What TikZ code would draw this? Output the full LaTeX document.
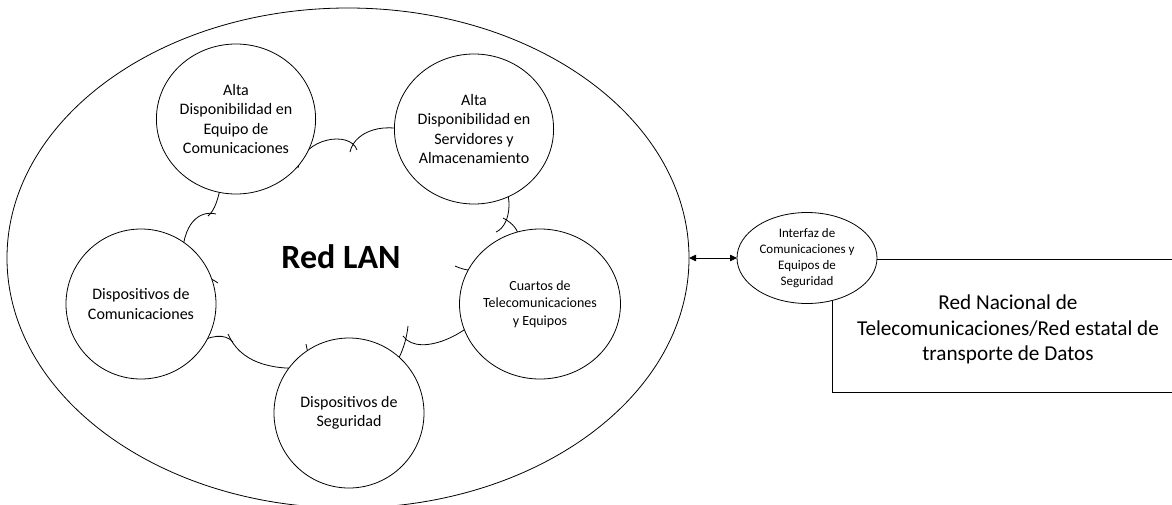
\documentclass[tikz,border=0pt]{standalone}
\usepackage{fontspec}
\setmainfont{Carlito}
\usetikzlibrary{shapes.geometric,arrows.meta}

\begin{document}
\begin{tikzpicture}[x=1pt,y=-1pt,
  every node/.style={outer sep=0pt, inner sep=0pt},
  ln/.style={line width=0.8pt},
  bubble/.style={ellipse, draw, ln, fill=white, minimum width=150pt, minimum height=150pt,
                 align=center, font=\fontsize{16}{19.6}\selectfont},
  puff/.style={draw, ln},
  twoway/.style={>={Triangle[length=7pt,width=6.5pt]}, <->}]
\useasboundingbox (0,0) rectangle (1172,504);

% outer boundary of the LAN
\node[ellipse, draw, ln, minimum width=682pt, minimum height=500pt] (lan) at (348,258) {};

% cloud puffs (partly hidden by the bubbles)
\draw[puff] (298,168) .. controls (303,138) and (350,130) .. (357,150);
\draw[puff] (350,152) .. controls (355,128) and (395,118) .. (425,140);
\draw[puff] (495,170) .. controls (515,190) and (512,225) .. (496,232);
\draw[puff] (503,218) .. controls (545,240) and (495,285) .. (455,266);
\draw[puff] (490,300) .. controls (480,330) and (420,360) .. (403,336);
\draw[puff] (306,344) .. controls (320,420) and (400,400) .. (408,326);
\draw[puff] (305,368) .. controls (270,370) and (240,362) .. (228,334);
\draw[puff] (233,342) .. controls (225,333) and (210,335) .. (195,345);
\draw[puff] (218,283) .. controls (200,270) and (170,270) .. (150,280);
\draw[puff] (182,262) .. controls (182,222) and (200,210) .. (216,214);
\draw[puff] (222,180) .. controls (218,200) and (215,210) .. (208,216);

% bubbles around the cloud
\node[bubble] (eqc) at (236,119) {Alta\\Disponibilidad en\\Equipo de\\Comunicaciones};
\node[bubble] (srv) at (474,129) {Alta\\Disponibilidad en\\Servidores y\\Almacenamiento};
\node[bubble] (dcom) at (141,304) {Dispositivos de\\Comunicaciones};
\node[bubble, font=\fontsize{14}{17.5}\selectfont] (cto) at (540,304) {Cuartos de\\Telecomunicaciones\\y Equipos};
\node[bubble] (dseg) at (349,413) {Dispositivos de\\Seguridad};

\node[font=\fontsize{34}{40}\selectfont\bfseries] (red) at (341,257) {Red LAN};

% national network box and its caption
\node[draw, ln, minimum width=352pt, minimum height=133pt] (wan) at (1008,325.5) {};
\node[align=center, font=\fontsize{21.2}{25.5}\selectfont] (wantext) at (1008,329.5)
      {Red Nacional de\\Telecomunicaciones/Red estatal de\\transporte de Datos};

% interface between LAN and national network
\node[ellipse, draw, ln, fill=white, minimum width=140pt, minimum height=91pt, align=center,
      font=\fontsize{13}{15.8}\selectfont] (intf) at (807,258)
      {Interfaz de\\Comunicaciones y\\Equipos de\\Seguridad};

\draw[ln, twoway] (lan.east) -- (intf.west);
\end{tikzpicture}
\end{document}
